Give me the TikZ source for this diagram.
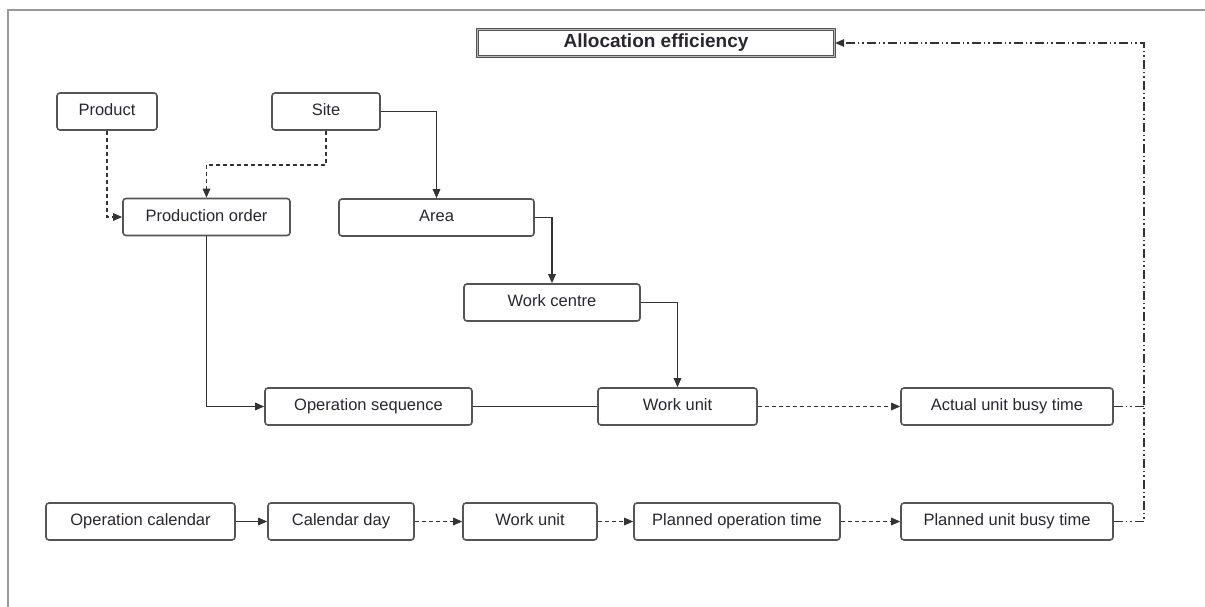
\documentclass[tikz,border=0pt]{standalone}
\usepackage{fontspec}
\setmainfont{Liberation Sans}
\usetikzlibrary{arrows.meta}
\definecolor{boxline}{HTML}{555555}
\definecolor{wire}{HTML}{333333}
\definecolor{txt}{HTML}{2A262F}
\definecolor{frame}{HTML}{9A9A9A}
\tikzset{
  entity/.style={draw=boxline, line width=1.6pt, rounded corners=3pt, fill=white,
    inner sep=0pt, minimum height=37pt, text=txt, text height=12pt, text depth=3.5pt,
    font=\fontsize{16.5}{19}\selectfont},
  titlebox/.style={draw=boxline, line width=1.1pt, double=frame!70, double distance=1.4pt,
    fill=white, inner sep=0pt, minimum width=357pt, minimum height=27pt, text=txt,
    text height=14pt, text depth=4pt,
    font=\bfseries\fontsize{19}{22}\selectfont},
  tip/.style={-{Triangle[length=9pt,width=7.5pt]}},
  link/.style={draw=wire, line width=1.4pt},
  solidarrow/.style={link, tip},
  dasharrow/.style={link, tip, dash pattern=on 4pt off 3pt},
  railline/.style={draw=wire, line width=1.4pt,
    dash pattern=on 9pt off 3pt on 1.5pt off 3pt on 1.5pt off 3pt},
}
\begin{document}
\begin{tikzpicture}[x=1pt, y=-1pt]
  \useasboundingbox (0,0) rectangle (1205,607);
  % page frame
  \draw[frame, line width=2pt] (8,607) -- (8,10) -- (1205,10);

  % nodes
  \node[titlebox] (alloc) at (656,43) {Allocation efficiency};
  \node[entity, minimum width=100pt] (product) at (107,111.5) {Product};
  \node[entity, minimum width=108pt] (site) at (326,111.5) {Site};
  \node[entity, minimum width=167pt] (porder) at (206.5,217) {Production order};
  \node[entity, minimum width=195pt] (area) at (436.5,217.5) {Area};
  \node[entity, minimum width=176pt] (wc) at (552,302.5) {Work centre};
  \node[entity, minimum width=207pt] (opseq) at (368.5,406.5) {Operation sequence};
  \node[entity, minimum width=159pt] (wu1) at (677.5,406.5) {Work unit};
  \node[entity, minimum width=212pt] (aubt) at (1007,406.5) {Actual unit busy time};
  \node[entity, minimum width=189pt] (opcal) at (140.5,521.5) {Operation calendar};
  \node[entity, minimum width=146pt] (calday) at (341,521.5) {Calendar day};
  \node[entity, minimum width=134pt] (wu2) at (530,521.5) {Work unit};
  \node[entity, minimum width=206pt] (pot) at (737,521.5) {Planned operation time};
  \node[entity, minimum width=212pt] (pubt) at (1007,521.5) {Planned unit busy time};

  \coordinate (rail) at (1144,43);
  \coordinate (split) at (0,165);

  % connectors
  \draw[dasharrow] (product.south) |- (porder.west);
  \draw[dasharrow] (site.south) -- (site.south |- split) -| (porder.north);
  \draw[solidarrow] (site.east) -| (area.north);
  \draw[solidarrow] (area.east) -| (wc.north);
  \draw[solidarrow] (wc.east) -| (wu1.north);
  \draw[solidarrow] (porder.south) |- (opseq.west);
  \draw[link] (opseq.east) -- (wu1.west);
  \draw[dasharrow] (wu1.east) -- (aubt.west);

  \draw[solidarrow] (opcal.east) -- (calday.west);
  \draw[dasharrow] (calday.east) -- (wu2.west);
  \draw[dasharrow] (wu2.east) -- (pot.west);
  \draw[dasharrow] (pot.east) -- (pubt.west);

  \draw[railline, tip] (pubt.east) -| (rail) -- (alloc.east);
  \draw[railline] (aubt.east) -- (aubt.east -| rail);
\end{tikzpicture}
\end{document}
